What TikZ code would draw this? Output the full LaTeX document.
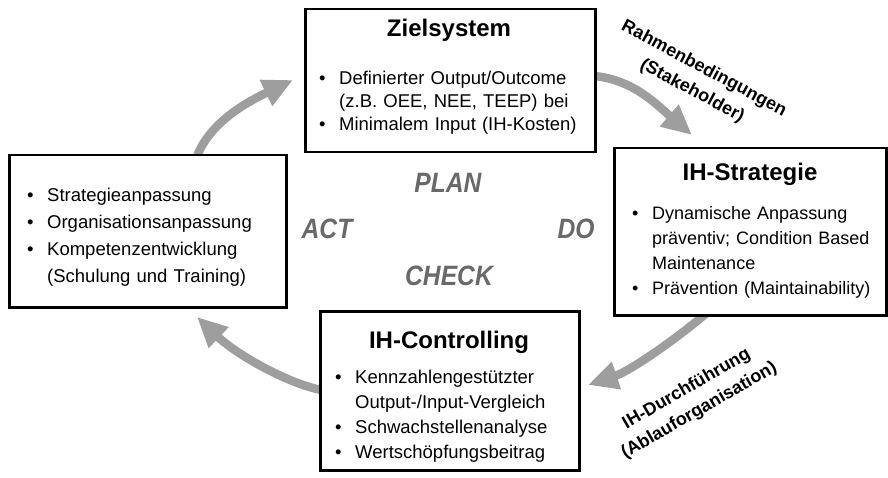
\documentclass[tikz,border=0pt]{standalone}
\usepackage{fontspec}
\setmainfont{Liberation Sans}
\usetikzlibrary{arrows.meta,backgrounds}

\definecolor{arrowgray}{RGB}{158,158,158}
\definecolor{pdcagray}{RGB}{105,105,105}

\newcommand{\bodyfont}[2][18.5]{\fontsize{#1}{#2}\selectfont}
\newcommand{\bul}[1]{\par\hangindent=20pt\hangafter=1\noindent\makebox[20pt][l]{\textbullet}\strut#1\strut\par}

\tikzset{
  panel/.style={draw, line width=2.5pt, fill=white, inner sep=0pt, anchor=north west},
  heading/.style={font=\fontsize{24}{28}\selectfont\bfseries, anchor=base, inner sep=0pt},
  items/.style={anchor=north west, inner sep=0pt, align=left, text width=#1},
  pdcaarrow/.style={line width=8.5pt, arrowgray, -{Triangle[length=30pt,width=27pt]}},
  pdca/.style={font=\fontsize{28}{28}\selectfont\bfseries\itshape, text=pdcagray, xscale=0.88, inner sep=0pt},
  sidelabel/.style={font=\fontsize{18}{25}\selectfont\bfseries, align=center, inner sep=0pt}
}

\begin{document}
\begin{tikzpicture}[x=1pt, y=-1pt]
  \useasboundingbox (0,0) rectangle (888,478);

  % boxes
  \node[panel, minimum width=290pt, minimum height=143pt] (ziel) at (304,8) {};
  \node[heading] (zieltitle) at (449,37) {Zielsystem};
  \node[items=270pt, font={\bodyfont{23}}] (ziellist) at (319,60.9)
    {\bul{Definierter Output/Outcome\newline (z.B. OEE, NEE, TEEP) bei}\bul{Minimalem Input (IH-Kosten)}};

  \node[panel, minimum width=272pt, minimum height=167pt] (strat) at (613,147) {};
  \node[heading] (strattitle) at (750,181) {IH-Strategie};
  \node[items=255pt, font={\bodyfont[18]{25}}] (stratlist) at (632,194.5)
    {\bul{Dynamische Anpassung\newline präventiv; Condition Based\newline Maintenance}\bul{Prävention (Maintainability)}};

  \node[panel, minimum width=277pt, minimum height=152pt] (act) at (8,154) {};
  \node[items=250pt, font={\bodyfont{27}}] (actlist) at (27,174.1)
    {\bul{Strategieanpassung}\bul{Organisationsanpassung}\bul{Kompetenzentwicklung\newline (Schulung und Training)}};

  \node[panel, minimum width=259pt, minimum height=159pt] (ctrl) at (319,310) {};
  \node[heading] (ctrltitle) at (449,348) {IH-Controlling};
  \node[items=235pt, font={\bodyfont{25}}] (ctrllist) at (335,358.5)
    {\bul{Kennzahlengestützter\newline Output-/Input-Vergleich}\bul{Schwachstellenanalyse}\bul{Wertschöpfungsbeitrag}};

  % cycle labels
  \node[pdca] (plan) at (448,183) {PLAN};
  \node[pdca] (do) at (576,229) {DO};
  \node[pdca] (check) at (449,276) {CHECK};
  \node[pdca] (actlabel) at (327,229) {ACT};

  \node[sidelabel, rotate=-28] (rahmen) at (698,80) {Rahmenbedingungen\\(Stakeholder)};
  \node[sidelabel, rotate=30] (durch) at (693,400) {IH-Durchführung\\(Ablauforganisation)};

  % arrows
  \coordinate (zieltip) at (293,80);
  \coordinate (strattip) at (692,135);
  \coordinate (ctrltip) at (588,385);
  \coordinate (acttip) at (197,317);
  \begin{scope}[on background layer]
    \draw[pdcaarrow] ([xshift=48pt,yshift=-6pt]act.north) .. controls (207,125) and (243,104) .. (zieltip);
    \draw[pdcaarrow] ([xshift=-6pt,yshift=5pt]ziel.east) .. controls (632,78) and (657,105) .. (strattip);
    \draw[pdcaarrow] ([xshift=-41pt,yshift=6pt]strat.south) .. controls (688,330) and (633,370) .. (ctrltip);
    \draw[pdcaarrow] ([xshift=6pt]ctrl.west) .. controls (290,385) and (237,355) .. (acttip);
  \end{scope}
\end{tikzpicture}
\end{document}
